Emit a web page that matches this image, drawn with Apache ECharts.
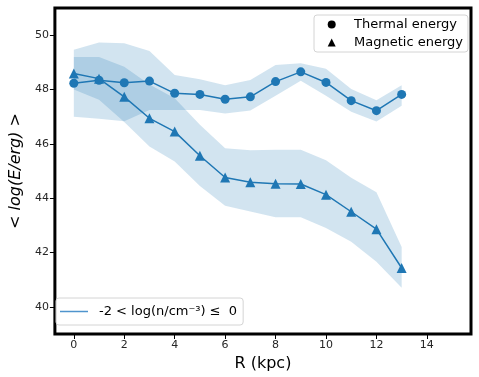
<!DOCTYPE html>
<html>
<head>
<meta charset="utf-8">
<script src="https://cdn.jsdelivr.net/npm/echarts@6/dist/echarts.min.js"></script>
<style>
  html, body { margin: 0; padding: 0; background: #fff; }
  #chart { width: 479px; height: 377px; }
</style>
</head>
<body>
<div id="chart"></div>
<script>
// ---- data ----
const R = [0, 1, 2, 3, 4, 5, 6, 7, 8, 9, 10, 11, 12, 13];
const thermal      = [48.23, 48.34, 48.25, 48.31, 47.86, 47.82, 47.64, 47.73, 48.29, 48.65, 48.26, 47.59, 47.22, 47.82];
const thermalUpper = [49.46, 49.73, 49.70, 49.42, 48.53, 48.38, 48.16, 48.35, 48.90, 48.97, 48.76, 48.02, 47.60, 48.16];
const thermalLower = [47.00, 46.92, 46.83, 47.25, 47.25, 47.25, 47.12, 47.23, 47.77, 48.32, 47.77, 47.18, 46.82, 47.40];
const magnetic      = [48.59, 48.40, 47.73, 46.94, 46.45, 45.56, 44.76, 44.59, 44.53, 44.52, 44.13, 43.50, 42.86, 41.43];
const magneticUpper = [49.20, 49.20, 48.84, 48.18, 47.68, 46.70, 45.84, 45.76, 45.78, 45.78, 45.40, 44.75, 44.22, 42.20];
const magneticLower = [48.00, 47.62, 46.80, 45.90, 45.35, 44.45, 43.72, 43.51, 43.30, 43.30, 42.90, 42.40, 41.66, 40.70];
const xTicks = [0, 2, 4, 6, 8, 10, 12, 14];
const yTicks = [40, 42, 44, 46, 48, 50];
const densityLabel = '-2 < log(n/cm\u207B\u00B3) \u2264  0';

const FONT = 'DejaVu Sans';
const BLUE = '#1f77b4';

function bandSeries(lower, upper) {
  return {
    type: 'custom',
    silent: true,
    z: 1,
    data: R.map((x, i) => [x, lower[i], upper[i]]),
    encode: { x: 0, y: [1, 2] },
    renderItem: function (params, api) {
      if (params.dataIndexInside !== 0) return null;
      const n = params.dataInsideLength;
      const pts = [];
      for (let i = 0; i < n; i++) pts.push(api.coord([api.value(0, i), api.value(2, i)]));
      for (let i = n - 1; i >= 0; i--) pts.push(api.coord([api.value(0, i), api.value(1, i)]));
      return { type: 'polygon', shape: { points: pts }, style: { fill: 'rgba(31,119,180,0.2)' } };
    }
  };
}

const chart = echarts.init(document.getElementById('chart'), null, { renderer: 'canvas' });
chart.setOption({
  animation: false,
  backgroundColor: '#fff',
  textStyle: { fontFamily: FONT },
  grid: {
    left: 48.5, right: 8, top: 8, bottom: 43,
    show: true, borderColor: '#000', borderWidth: 3, backgroundColor: 'transparent'
  },
  xAxis: {
    type: 'value', min: -0.75, max: 15.75,
    name: 'R (kpc)', nameLocation: 'middle', nameGap: 19,
    nameTextStyle: { fontSize: 16, color: '#000', fontFamily: FONT },
    axisLine: { show: false, onZero: false },
    splitLine: { show: false },
    axisTick: { show: true, length: 5, lineStyle: { color: '#000', width: 1 }, customValues: xTicks },
    axisLabel: { fontSize: 11, color: '#262626', margin: 6, fontFamily: FONT, customValues: xTicks }
  },
  yAxis: {
    type: 'value', min: 39, max: 51,
    name: '< {i|log(E/erg)} >', nameLocation: 'middle', nameGap: 26,
    nameTextStyle: { fontSize: 16, color: '#000', fontFamily: FONT,
      rich: { i: { fontSize: 16, fontStyle: 'italic', color: '#000', fontFamily: FONT } } },
    axisLine: { show: false, onZero: false },
    splitLine: { show: false },
    axisTick: { show: true, length: 5, lineStyle: { color: '#000', width: 1 }, customValues: yTicks },
    axisLabel: { fontSize: 11, color: '#262626', margin: 6, fontFamily: FONT, customValues: yTicks }
  },
  legend: [
    {
      left: 314, top: 15, orient: 'vertical',
      selectedMode: false,
      itemWidth: 8, itemHeight: 8, itemGap: 5,
      padding: [3, 5, 3, 13.7],
      borderColor: '#d4d4d4', borderWidth: 1, borderRadius: 3,
      backgroundColor: 'rgba(255,255,255,0.8)',
      formatter: function (name) { return '{t|' + name + '}'; },
      textStyle: { fontSize: 13, color: '#000', fontFamily: FONT,
        rich: { t: { fontSize: 13, color: '#000', fontFamily: FONT, padding: [0, 0, 0, 13.3] } } },
      data: [
        { name: 'Thermal energy', icon: 'circle', itemStyle: { color: '#000' } },
        { name: 'Magnetic energy', icon: 'triangle', itemStyle: { color: '#000' } }
      ]
    },
    {
      left: 56, top: 298, orient: 'vertical',
      selectedMode: false,
      itemWidth: 28, itemHeight: 1.5,
      padding: [7, 6, 7, 4],
      borderColor: '#d4d4d4', borderWidth: 1, borderRadius: 3,
      backgroundColor: 'rgba(255,255,255,0.8)',
      formatter: function (name) { return '{t|' + name + '}'; },
      textStyle: { fontSize: 13, color: '#000', fontFamily: FONT,
        rich: { t: { fontSize: 13, color: '#000', fontFamily: FONT, padding: [0, 0, 0, 6] } } },
      data: [{ name: densityLabel, icon: 'rect', itemStyle: { color: '#4f94cd' } }]
    }
  ],
  series: [
    bandSeries(thermalLower, thermalUpper),
    bandSeries(magneticLower, magneticUpper),
    {
      name: 'Thermal energy', type: 'line', z: 3,
      data: R.map((x, i) => [x, thermal[i]]),
      symbol: 'circle', symbolSize: 9,
      itemStyle: { color: BLUE },
      lineStyle: { color: BLUE, width: 1.5 }
    },
    {
      name: 'Magnetic energy', type: 'line', z: 3,
      data: R.map((x, i) => [x, magnetic[i]]),
      symbol: 'triangle', symbolSize: 10,
      itemStyle: { color: BLUE },
      lineStyle: { color: BLUE, width: 1.5 }
    },
    {
      name: densityLabel, type: 'line', data: [],
      itemStyle: { color: '#4f94cd' }, lineStyle: { color: '#4f94cd', width: 1.5 }
    }
  ]
});
</script>
</body>
</html>
